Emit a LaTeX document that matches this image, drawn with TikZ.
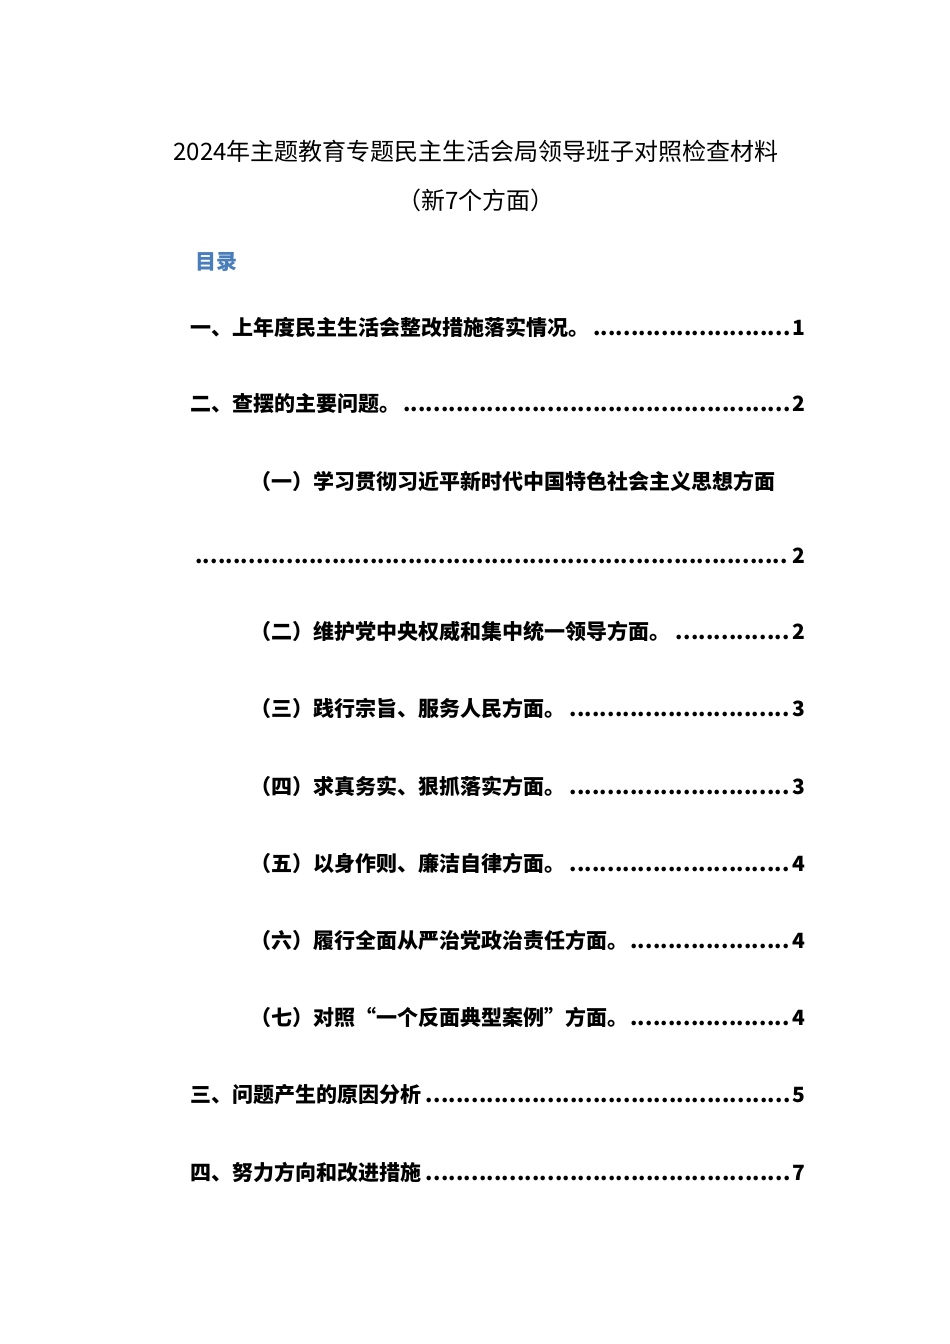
\documentclass[tikz,border=0pt]{standalone}
\usepackage{fontspec}
\setmainfont{Noto Sans CJK SC}
\newfontfamily\cjkb{Noto Sans CJK SC}[BoldFont={Noto Sans CJK SC Bold}]
\definecolor{tocblue}{HTML}{4A7EBB}
\newcommand{\myleader}{\leaders\hbox to 7.6pt{\hss.\hss}\hfill}
\tikzset{
  ttl/.style={font=\fontsize{24}{28}\selectfont, inner sep=0},
  entry/.style={anchor=west, inner sep=0, font=\fontsize{21}{25}\selectfont\bfseries, text width=#1, align=left},
}
\begin{document}
\begin{tikzpicture}[x=1pt,y=-1pt]
\useasboundingbox[fill=white] (0,0) rectangle (950,1344);
\node[ttl] (t1) at (476,151) {2024年主题教育专题民主生活会局领导班子对照检查材料};
\node[ttl] (t2) at (476,200) {（新7个方面）};
\node[anchor=west, inner sep=0, text=tocblue, font=\fontsize{21}{25}\selectfont\bfseries] (ml) at (195,262) {目录};
\node[entry=615pt] (e1) at (190,327) {一、上年度民主生活会整改措施落实情况。\myleader 1};
\node[entry=615pt] (e2) at (190,404) {二、查摆的主要问题。\myleader 2};
\node[entry=555pt] (e3) at (250,481) {（一）学习贯彻习近平新时代中国特色社会主义思想方面};
\node[entry=610pt] (e3b) at (195,556) {\myleader 2};
\node[entry=555pt] (e4) at (250,631) {（二）维护党中央权威和集中统一领导方面。\myleader 2};
\node[entry=555pt] (e5) at (250,708) {（三）践行宗旨、服务人民方面。\myleader 3};
\node[entry=555pt] (e6) at (250,786) {（四）求真务实、狠抓落实方面。\myleader 3};
\node[entry=555pt] (e7) at (250,863) {（五）以身作则、廉洁自律方面。\myleader 4};
\node[entry=555pt] (e8) at (250,940) {（六）履行全面从严治党政治责任方面。\myleader 4};
\node[entry=555pt] (e9) at (250,1017) {（七）对照“一个反面典型案例”方面。\myleader 4};
\node[entry=615pt] (e10) at (190,1095) {三、问题产生的原因分析\myleader 5};
\node[entry=615pt] (e11) at (190,1172) {四、努力方向和改进措施\myleader 7};
\end{tikzpicture}
\end{document}
